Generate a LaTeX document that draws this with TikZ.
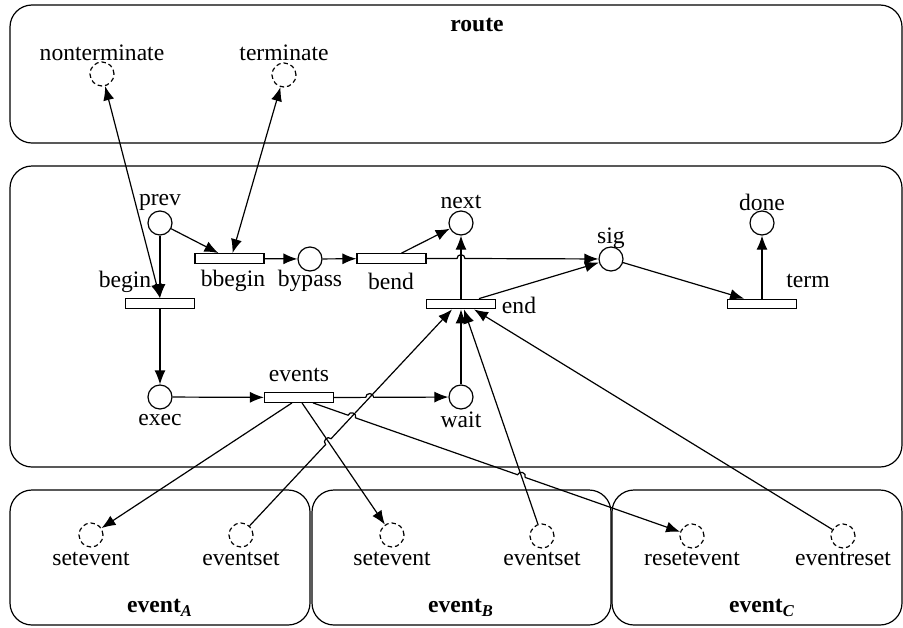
\documentclass[tikz,border=0pt]{standalone}
\usepackage{fontspec}
\setmainfont{Liberation Serif}
\usetikzlibrary{arrows.meta,calc,intersections}
\begin{document}
\begin{tikzpicture}[x=0.5pt,y=0.5pt,
  font=\fontsize{11.8}{13}\selectfont,
  place/.style={circle,draw,line width=0.6pt,minimum size=12pt,inner sep=0pt},
  dplace/.style={place,dash pattern=on 2.2pt off 1.5pt},
  trans/.style={rectangle,draw,line width=0.6pt,minimum width=34.5pt,minimum height=4.8pt,inner sep=0pt},
  lbl/.style={inner sep=0pt},
  arr/.style={line width=0.6pt,-{Latex[length=7pt,width=5.5pt]}},
  darr/.style={line width=0.6pt,{Latex[length=7pt,width=5.5pt]}-{Latex[length=7pt,width=5.5pt]}},
  hop/.style={bend left=90,looseness=1.6},
  box/.style={draw,line width=0.6pt,rounded corners=11pt}
]
\useasboundingbox (0,0) rectangle (903,-627);

% boxes
\draw[box] (10,-5) rectangle (902,-143);
\draw[box] (10,-166) rectangle (902,-467);
\draw[box] (10,-490) rectangle (310,-625);
\draw[box] (312,-490) rectangle (611,-625);
\draw[box] (612,-490) rectangle (902,-625);

% route
\node[lbl] (route-l) at (477,-25) {\textbf{route}};
\node[dplace] (pnonterm) at (102,-74) {};
\node[lbl] (nonterm-l) at (102,-53) {nonterminate};
\node[dplace] (pterminate) at (284,-75) {};
\node[lbl] (terminate-l) at (284,-53) {terminate};

% middle
\node[place] (pprev) at (160,-223) {};
\node[lbl] (prev-l) at (160,-202) {prev};
\node[trans] (tbbegin) at (229.5,-258.5) {};
\node[lbl] (bbegin-l) at (233,-281) {bbegin};
\node[place] (pbypass) at (310,-259) {};
\node[lbl] (bypass-l) at (310,-281) {bypass};
\node[trans] (tbend) at (391.5,-258.5) {};
\node[lbl] (bend-l) at (391,-281) {bend};
\node[place] (pnext) at (461,-223) {};
\node[lbl] (next-l) at (461,-202) {next};
\node[trans] (tbegin) at (160,-303.5) {};
\node[lbl] (begin-l) at (125,-282) {begin};
\node[trans] (tend) at (461,-304) {};
\node[lbl] (end-l) at (519,-305) {end};
\node[place] (psig) at (611,-259) {};
\node[lbl] (sig-l) at (611,-238) {sig};
\node[place] (pdone) at (762,-223) {};
\node[lbl] (done-l) at (762,-202) {done};
\node[trans] (tterm) at (762,-304) {};
\node[lbl] (term-l) at (808,-281) {term};
\node[place] (pexec) at (160,-397) {};
\node[lbl] (exec-l) at (160,-420) {exec};
\node[trans] (tevents) at (299,-397.5) {};
\node[lbl] (events-l) at (299,-375) {events};
\node[place] (pwait) at (461,-397) {};
\node[lbl] (wait-l) at (461,-420) {wait};

% bottom
\node[dplace] (pseA) at (91,-535) {};
\node[lbl] (seA-l) at (91,-559) {setevent};
\node[dplace] (pesA) at (241,-535) {};
\node[lbl] (esA-l) at (241,-559) {eventset};
\node[dplace] (pseB) at (392,-535) {};
\node[lbl] (seB-l) at (392,-559) {setevent};
\node[dplace] (pesB) at (542,-536) {};
\node[lbl] (esB-l) at (542,-559) {eventset};
\node[dplace] (prsC) at (692,-536) {};
\node[lbl] (rsC-l) at (692,-559) {resetevent};
\node[dplace] (perC) at (843,-536) {};
\node[lbl] (erC-l) at (843,-559) {eventreset};
\node[lbl] (evA-l) at (160,-608) {\textbf{event}\textsubscript{\textbf{\textit{A}}}};
\node[lbl] (evB-l) at (461,-608) {\textbf{event}\textsubscript{\textbf{\textit{B}}}};
\node[lbl] (evC-l) at (762,-608) {\textbf{event}\textsubscript{\textbf{\textit{C}}}};

% anchor points
\coordinate (eA) at ($(tend.south)+(-9,0)$);
\coordinate (eB) at ($(tend.south)+(3,0)$);
\coordinate (eC) at ($(tend.south)+(13,0)$);
\coordinate (sA) at ($(tevents.south)+(-7,0)$);
\coordinate (sB) at ($(tevents.south)+(3,0)$);
\coordinate (sC) at ($(tevents.south)+(14,0)$);

% simple arcs
\draw[darr] (pnonterm) -- (tbegin.north);
\draw[darr] (pterminate) -- ($(tbbegin.north)+(3,0)$);
\draw[arr] (pprev) -- (tbegin.north);
\draw[arr] (pprev) -- ($(tbbegin.north)+(-11,0)$);
\draw[arr] (tbbegin) -- (pbypass);
\draw[arr] (pbypass) -- (tbend);
\draw[arr] ($(tbend.north)+(10,0)$) -- (pnext);
\coordinate (h1) at (tend.north |- tbend.east);
\draw[arr] (tbend.east) -- ($(h1)+(-4,0)$) to[hop] ($(h1)+(4,0)$) -- (psig);
\draw[arr] (tend.north) -- (pnext);
\draw[arr] ($(tend.north)+(18,0)$) -- (psig);
\draw[arr] (psig) -- ($(tterm.north)+(-18,0)$);
\draw[arr] (tterm.north) -- (pdone);
\draw[arr] (tbegin.south) -- (pexec);
\draw[arr] (pexec) -- (tevents);
\draw[arr] (pwait) -- (tend.south);

% crossing arcs
\path[name path=LA] (pesA) -- (eA);
\path[name path=LB] (pesB) -- (eB);
\path[name path=EW] (tevents.east) -- (pwait);
\path[name path=ESB] (sB) -- (pseB);
\path[name path=ESC] (sC) -- (prsC);
\path[name intersections={of=LA and EW,by=x1}];
\path[name intersections={of=LA and ESB,by=x2}];
\path[name intersections={of=LA and ESC,by=x3}];
\path[name intersections={of=LB and ESC,by=x4}];

\draw[arr] (tevents.east) -- ($(x1)!2pt!(tevents)$) to[hop] ($(x1)!2pt!(pwait)$) -- (pwait);
\draw[arr] (pesA) -- ($(x2)!2pt!(pesA)$) to[hop] ($(x2)!2pt!(eA)$) -- (eA);
\draw[arr] (pesB) -- (eB);
\draw[arr] (perC) -- (eC);
\draw[arr] (sA) -- (pseA);
\draw[arr] (sB) -- (pseB);
\draw[arr] (sC) -- ($(x3)!2pt!(sC)$) to[hop] ($(x3)!2pt!(prsC)$) -- ($(x4)!2pt!(sC)$) to[hop] ($(x4)!2pt!(prsC)$) -- (prsC);
\end{tikzpicture}
\end{document}
